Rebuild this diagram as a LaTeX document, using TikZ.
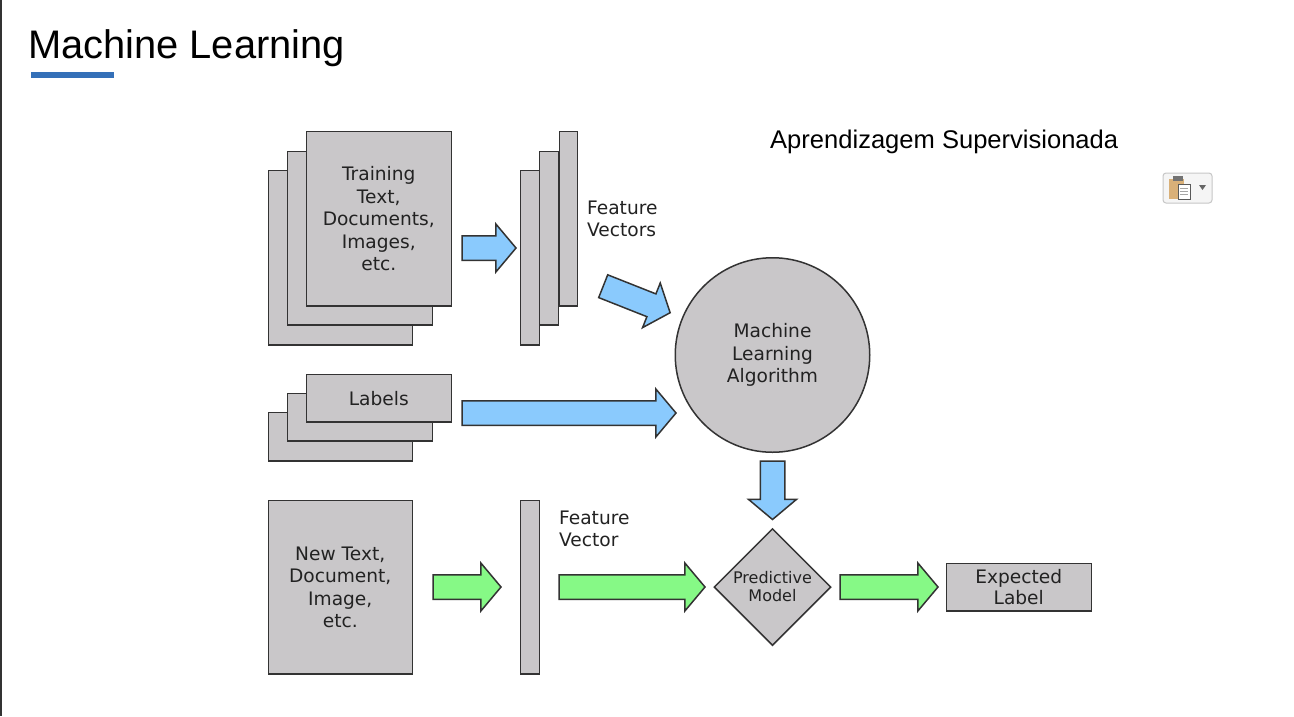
\documentclass[tikz,border=0pt]{standalone}
\usepackage{fontspec}
\setmainfont{DejaVu Sans}
\newfontfamily\arialfont{Liberation Sans}
\usetikzlibrary{shapes.geometric,shapes.arrows}
\definecolor{boxgray}{HTML}{C9C7C9}
\definecolor{edgegray}{HTML}{333333}
\definecolor{arrowblue}{HTML}{8ACAFD}
\definecolor{arrowgreen}{HTML}{86F986}
\definecolor{rulerblue}{HTML}{3470B8}
\definecolor{labelgray}{HTML}{222222}
\definecolor{cliptan}{HTML}{D9B078}
\tikzset{
  x=1pt,y=-1pt,
  card/.style={draw=edgegray,fill=boxgray,line width=1.5pt,rectangle,inner sep=0pt,anchor=north west,align=center,text=labelgray,font=\fontsize{18.6}{22.4}\selectfont},
  blockarrow/.style={single arrow,draw=edgegray,line width=1.5pt,inner xsep=0pt,inner ysep=11.5pt,outer sep=0pt,minimum width=47pt,single arrow head extend=11.75pt,single arrow tip angle=100,anchor=tail},
  bluearrow/.style={blockarrow,fill=arrowblue},
  greenarrow/.style={blockarrow,fill=arrowgreen},
  caption/.style={anchor=west,align=left,inner sep=0pt,text=labelgray,font=\fontsize{18.6}{22.4}\selectfont},
}
\newcommand{\card}[6]{\node[card,minimum width=#4pt-#2pt-1pt,minimum height=#5pt-#3pt-0.5pt] (#1) at (#2-0.5,#3-0.25) {#6};}
\begin{document}
\begin{tikzpicture}
\useasboundingbox (0,0) rectangle (1294,716);
\fill[white] (0,0) rectangle (1294,716);
\fill[edgegray] (0,0) rectangle (1.5,716);
% title
\node[anchor=base west,inner sep=0pt,font=\arialfont\fontsize{39.85}{42}\selectfont] (title) at (28,58) {Machine Learning};
\fill[rulerblue] (31,72) rectangle (114,78);
\node[anchor=base west,inner sep=0pt,font=\arialfont\fontsize{25.55}{28}\selectfont] (sup) at (770,148) {Aprendizagem Supervisionada};
% paste icon
\draw[draw=black!22,fill=black!4,rounded corners=3pt,line width=1pt] (1163,173) rectangle (1212,203);
\fill[cliptan] (1169,179) rectangle (1184,199);
\fill[black!55] (1173,176) rectangle (1183,181);
\draw[black!65,fill=white,line width=.7pt] (1178,184) rectangle (1190,199);
\draw[black!35,line width=.7pt] (1180,188) -- (1188,188) (1180,191) -- (1188,191) (1180,194) -- (1188,194);
\fill[black!60] (1199,185) -- (1206,185) -- (1202.5,190) -- cycle;
% training stack
\card{tr3}{268}{170}{413}{345}{}
\card{tr2}{287}{151}{433}{325}{}
\card{tr1}{306}{131}{452}{306}{Training\\Text,\\Documents,\\Images,\\etc.}
% feature vectors
\card{fv3}{520}{170}{540}{345}{}
\card{fv2}{539}{151}{559}{325}{}
\card{fv1}{559}{131}{578}{306}{}
\node[caption] (fvlabel) at (587,219) {Feature\\Vectors};
% labels stack
\card{lb3}{268}{412}{413}{461}{}
\card{lb2}{287}{393}{433}{441}{}
\card{lb1}{306}{374}{452}{422}{Labels}
% new text
\card{nt}{268}{500}{413}{674}{New Text,\\Document,\\Image,\\etc.}
\card{nv}{520}{500}{540}{674}{}
\node[caption] (nvlabel) at (559,529) {Feature\\Vector};
% algorithm
\node[circle,draw=edgegray,fill=boxgray,line width=1.5pt,minimum size=194.5pt,inner sep=0pt,align=center,text=labelgray,font=\fontsize{18.6}{22.4}\selectfont] (algo) at (772.5,355) {Machine\\Learning\\Algorithm};
% model
\node[diamond,draw=edgegray,fill=boxgray,line width=1.5pt,minimum width=117pt,minimum height=117pt,inner sep=0pt,align=center,text=labelgray,font=\fontsize{16}{18}\selectfont] (model) at (772.5,587) {Predictive\\Model};
% expected
\node[card,font=\fontsize{18.6}{21.4}\selectfont,minimum width=145pt,minimum height=47.5pt] (exp) at (945.5,562.75) {Expected\\Label};
% arrows
\node[bluearrow,minimum height=54pt] (a1) at (462,248) {};
\node[bluearrow,minimum height=72pt,rotate=-21.6] (a2) at (603.2,286.2) {};
\node[bluearrow,minimum height=214pt] (a3) at (462,413) {};
\node[bluearrow,minimum height=58.5pt,rotate=-90] (a4) at (772.5,461) {};
\node[greenarrow,minimum height=68pt] (a5) at (433,587) {};
\node[greenarrow,minimum height=146pt] (a6) at (559,587) {};
\node[greenarrow,minimum height=98pt] (a7) at (840,587) {};
\end{tikzpicture}
\end{document}
